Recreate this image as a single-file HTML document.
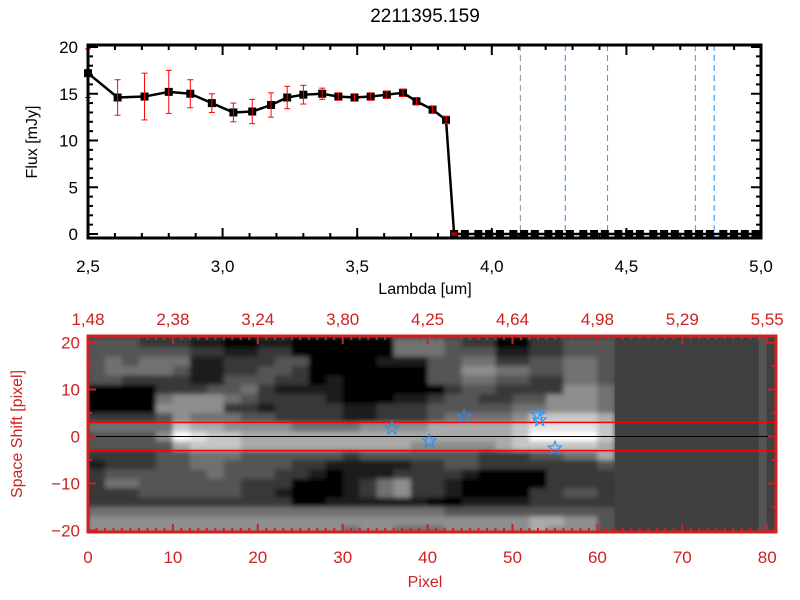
<!DOCTYPE html>
<html><head><meta charset="utf-8"><style>
html,body{margin:0;padding:0;background:#fff;}
svg{display:block;font-family:"Liberation Sans",sans-serif;}
</style></head><body>
<svg id="c" width="800" height="600" viewBox="0 0 800 600">
<defs>
<filter id="soft" x="0" y="0" width="1" height="1"><feGaussianBlur stdDeviation="2.5" edgeMode="duplicate"/></filter>
<clipPath id="hclip"><rect x="88" y="336" width="688" height="196"/></clipPath>
</defs>
</svg>
<script>
// ---- top panel data ----
const lambdas=[2.5,2.61,2.71,2.80,2.88,2.96,3.04,3.11,3.18,3.24,3.30,3.37,3.43,3.49,3.55,3.61,3.67,3.72,3.78,3.83,3.86];
const fluxes=[17.2,14.6,14.7,15.2,15.0,14.0,13.0,13.1,13.8,14.6,14.9,15.0,14.7,14.6,14.7,14.9,15.1,14.2,13.3,12.2,0];
const errors=[2.6,1.9,2.5,2.3,1.5,1.0,1.0,1.3,1.3,1.2,1.0,0.6,0.4,0.4,0.4,0.4,0.4,0.4,0.4,0.4,0.1];
const zeroLambdas=[3.86,3.90,3.95,3.99,4.03,4.08,4.12,4.16,4.21,4.25,4.29,4.34,4.38,4.42,4.47,4.51,4.55,4.60,4.64,4.68,4.73,4.77,4.81,4.86,4.90,4.94,4.98];
const grayLines=[4.106,4.43,4.756];
const blueLines=[4.273,4.826];
const xTicksTop=["2.5","3.0","3.5","4.0","4.5","5.0"];
const yTicksTop=[0,5,10,15,20];
// ---- bottom panel data ----
const topAxisLabels=["1.48","2.38","3.24","3.80","4.25","4.64","4.98","5.29","5.55"];
const bottomTicks=[0,10,20,30,40,50,60,70,80];
const shiftTicks=[20,10,0,-10,-20];
const starPix=[35.8,40.2,44.3,53.0,53.2,55.0];
const starShift=[1.8,-1.0,4.3,4.6,3.5,-2.5];
const heatRows=[ // y=20 down to -20 step 2; each char covers 2 pixel columns (0..61)
"3332221100110000004443220022333",
"3333332211220000004443331122333",
"3434441122233000011133442233443",
"3444431122332000000033554433443",
"3322221133322010000033443322443",
"0000222334211110000002332222554",
"0000455543222210001123322335554",
"0000555522122221122233333445554",
"2222354443322221122234444577776",
"4444476655554444555566666788887",
"3333598776666666666666666799997",
"3333367776666666666555556777776",
"2222334443333332333333322233446",
"1222334433332211111223322222223",
"2333333433322101112222100002222",
"2443333332220001245221000002222",
"2223333332210001245221000022332",
"2222222222220011111100111122222",
"4444444444444444444443333333333",
"5555555555555555555555555566553",
"5555555555555554554445555565553"];
const flatLevel=64;

const NS="http://www.w3.org/2000/svg";
const svg=document.getElementById('c');
function mk(t,a,p){const e=document.createElementNS(NS,t);for(const k in a)e.setAttribute(k,a[k]);(p||svg).appendChild(e);return e;}
const TX0=88,TX1=761,TY0=45,TY1=238;
const tx=v=>TX0+(v-2.5)/2.5*(TX1-TX0);
const ty=v=>234-v*9.35;
const BX0=88,BX1=776,BY0=336,BY1=532;
const bx=p=>88+p*8.49;
const by=s=>436.5-s*4.7;
const RED="#cc2222";

let t=mk('text',{x:425,y:22,'text-anchor':'middle','font-size':19});t.textContent="2211395.159";


grayLines.forEach(l=>{const e=mk('line',{x1:tx(l),x2:tx(l),y1:TY0,y2:TY1,stroke:'#888','stroke-width':1,'stroke-dasharray':'6,4'});
});
blueLines.forEach(l=>{const e=mk('line',{x1:tx(l),x2:tx(l),y1:TY0,y2:TY1,stroke:'#1e90ff','stroke-width':1,'stroke-dasharray':'6,4'});
});
let zl=mk('line',{x1:tx(3.86),x2:TX1,y1:ty(0),y2:ty(0),stroke:'red','stroke-width':1,'stroke-dasharray':'5,4'});

const allL=lambdas.concat(zeroLambdas.slice(1)), allF=fluxes.concat(zeroLambdas.slice(1).map(()=>0));
let pl=mk('polyline',{points:allL.map((l,i)=>tx(l)+','+ty(allF[i])).join(' '),fill:'none',stroke:'#000','stroke-width':2.5});

allL.forEach((l,i)=>{const e=mk('rect',{x:tx(l)-4,y:ty(allF[i])-4,width:8,height:8,fill:'#000'});
});
lambdas.forEach((l,i)=>{const g=mk('g',{stroke:'red','stroke-width':1});

const x=tx(l),y1=ty(fluxes[i]-errors[i]),y2=ty(fluxes[i]+errors[i]);
mk('line',{x1:x,x2:x,y1:y1,y2:y2},g);mk('line',{x1:x-3,x2:x+3,y1:y1,y2:y1},g);mk('line',{x1:x-3,x2:x+3,y1:y2,y2:y2},g);});
let tb=mk('rect',{x:TX0,y:TY0,width:TX1-TX0,height:TY1-TY0,fill:'none',stroke:'#000','stroke-width':3});

for(let k=0;k<=25;k++){const v=2.5+k*0.1,x=tx(v),len=k%5==0?10:5;
mk('line',{x1:x,x2:x,y1:TY1,y2:TY1-len,stroke:'#000','stroke-width':2});mk('line',{x1:x,x2:x,y1:TY0,y2:TY0+len,stroke:'#000','stroke-width':2});}
xTicksTop.forEach(s=>{const e=mk('text',{x:tx(parseFloat(s)),y:272,'text-anchor':'middle','font-size':17});e.textContent=s.replace('.',',');
});
for(let v=0;v<=20;v++){const y=ty(v),len=v%5==0?10:5;
mk('line',{x1:TX0,x2:TX0+len,y1:y,y2:y,stroke:'#000','stroke-width':2});mk('line',{x1:TX1,x2:TX1-len,y1:y,y2:y,stroke:'#000','stroke-width':2});}
yTicksTop.forEach(v=>{const e=mk('text',{x:78,y:ty(v)+6,'text-anchor':'end','font-size':17});e.textContent=v;
});
t=mk('text',{x:425,y:294,'text-anchor':'middle','font-size':16});t.textContent="Lambda [um]";

t=mk('text',{x:0,y:0,'text-anchor':'middle','font-size':16,transform:'translate(37,142) rotate(-90)'});t.textContent="Flux [mJy]";


const hc=mk('g',{'clip-path':'url(#hclip)'});

mk('rect',{x:BX0,y:BY0,width:BX1-BX0,height:BY1-BY0,fill:'rgb('+flatLevel+','+flatLevel+','+flatLevel+')'},hc);
const hm=mk('g',{filter:'url(#soft)'},hc);

heatRows.forEach((row,r)=>{const s=20-2*r;
for(let c=0;c<row.length;c++){const g=Math.round(+row[c]*255/9);
const y0=by(s+1),y1=by(s-1);
const e=mk('rect',{x:bx(2*c),y:y0,width:bx(2*c+2)-bx(2*c)+0.5,height:y1-y0+0.5,fill:'rgb('+g+','+g+','+g+')'},hm);
}});
let lc=mk('rect',{x:bx(79),y:BY0,width:8,height:BY1-BY0,fill:'#555'},hc);

[3,-3].forEach(s=>{const e=mk('line',{x1:BX0,x2:BX1,y1:by(s),y2:by(s),stroke:'red','stroke-width':1.5});
});
let cl=mk('line',{x1:BX0,x2:BX1,y1:by(0),y2:by(0),stroke:'#000','stroke-width':1});

function starPts(cx,cy,R){let p=[];for(let i=0;i<10;i++){const a=-Math.PI/2+i*Math.PI/5,r=i%2?R*0.42:R;p.push((cx+r*Math.cos(a)).toFixed(1)+','+(cy+r*Math.sin(a)).toFixed(1));}return p.join(' ');}
starPix.forEach((p,i)=>{const e=mk('polygon',{points:starPts(bx(p),by(starShift[i]),7),fill:'none',stroke:'#1e90ff','stroke-width':1});
});
let bb=mk('rect',{x:BX0,y:BY0,width:BX1-BX0,height:BY1-BY0,fill:'none',stroke:RED,'stroke-width':3});

for(let p=0;p<=81;p++){const x=bx(p),len=p%10==0?8:4;
mk('line',{x1:x,x2:x,y1:BY1,y2:BY1-len,stroke:RED,'stroke-width':2});mk('line',{x1:x,x2:x,y1:BY0,y2:BY0+len,stroke:RED,'stroke-width':2});}
for(let s=-20;s<=20;s+=5){const y=by(s),len=s%10==0?8:4;
mk('line',{x1:BX0,x2:BX0+len,y1:y,y2:y,stroke:RED,'stroke-width':2});mk('line',{x1:BX1,x2:BX1-len,y1:y,y2:y,stroke:RED,'stroke-width':2});}
bottomTicks.forEach(p=>{const e=mk('text',{x:bx(p),y:563,'text-anchor':'middle','font-size':17,fill:RED});e.textContent=p;
});
topAxisLabels.forEach((s,i)=>{const e=mk('text',{x:bx(i*10),y:325,'text-anchor':'middle','font-size':17,fill:RED});e.textContent=s.replace('.',',');
});
shiftTicks.forEach(s=>{const e=mk('text',{x:80,y:by(s)+6,'text-anchor':'end','font-size':17,fill:RED});e.textContent=s===0?'0':(s<0?'\u2212'+(-s):s);
});
t=mk('text',{x:425,y:587,'text-anchor':'middle','font-size':16,fill:RED});t.textContent="Pixel";

t=mk('text',{x:0,y:0,'text-anchor':'middle','font-size':16,fill:RED,transform:'translate(22,434) rotate(-90)'});t.textContent="Space Shift [pixel]";

</script>
</body></html>
